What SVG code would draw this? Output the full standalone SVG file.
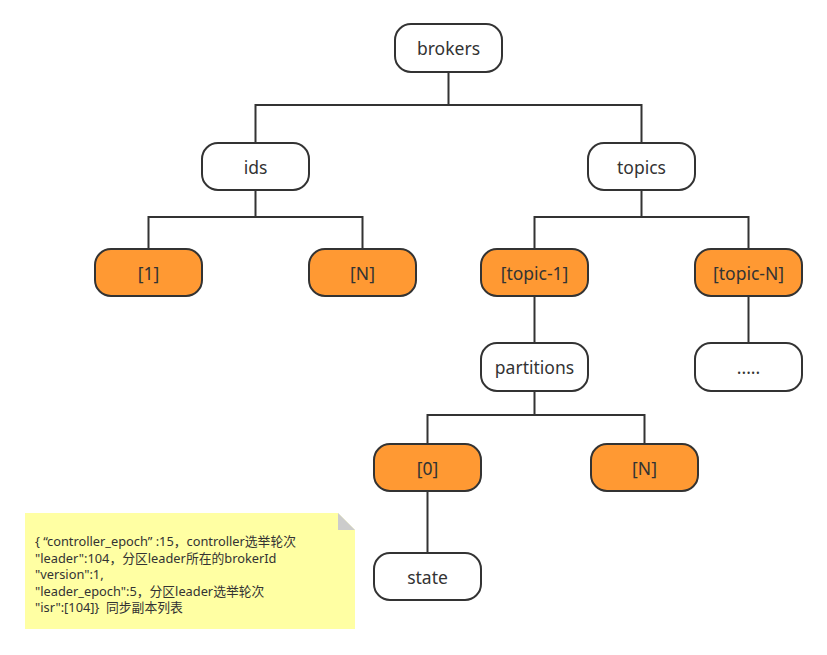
<svg xmlns="http://www.w3.org/2000/svg" width="827" height="655" viewBox="0 0 827 655">
<style>
.n rect{stroke:#333;stroke-width:2}
.w rect{fill:#fff}
.o rect{fill:#FF9933}
.n text{font-family:"Noto Sans","Open Sans","Liberation Sans",sans-serif;font-size:17.5px;fill:#333;text-anchor:middle;dominant-baseline:central}
.c path{fill:none;stroke:#333;stroke-width:2}
.note text{font-family:"Noto Sans","Liberation Sans","Noto Sans CJK SC",sans-serif;font-size:12.8px;fill:#333}
</style>
<rect width="827" height="655" fill="#fff"/>
<g class="c">
<path d="M448.5 72V105M255.5 143V105H641.5V143"/>
<path d="M255.5 190V217M148.5 249V217H362.5V249"/>
<path d="M641.5 190V217M534.5 249V217H748.5V249"/>
<path d="M534.5 296V343"/>
<path d="M748.5 296V343"/>
<path d="M534.5 391V415M427.5 444V415H644.5V444"/>
<path d="M427.5 491V553"/>
</g>
<g id="brokers" class="n w"><rect x="395" y="24" width="107" height="48" rx="16"/><text x="448.5" y="48">brokers</text></g>
<g id="ids" class="n w"><rect x="202" y="143" width="107" height="47" rx="16"/><text x="255.5" y="166.5">ids</text></g>
<g id="topics" class="n w"><rect x="588" y="143" width="107" height="47" rx="16"/><text x="641.5" y="166.5">topics</text></g>
<g id="id1" class="n o"><rect x="95" y="249" width="107" height="47" rx="16"/><text x="148.5" y="272.5">[1]</text></g>
<g id="idN" class="n o"><rect x="309" y="249" width="107" height="47" rx="16"/><text x="362.5" y="272.5">[N]</text></g>
<g id="topic1" class="n o"><rect x="481" y="249" width="107" height="47" rx="16"/><text x="534.5" y="272.5">[topic-1]</text></g>
<g id="topicN" class="n o"><rect x="695" y="249" width="107" height="47" rx="16"/><text x="748.5" y="272.5">[topic-N]</text></g>
<g id="partitions" class="n w"><rect x="481" y="343" width="107" height="48" rx="16"/><text x="534.5" y="367">partitions</text></g>
<g id="dots" class="n w"><rect x="695" y="343" width="107" height="48" rx="16"/><text x="748.5" y="367">.....</text></g>
<g id="p0" class="n o"><rect x="374" y="444" width="107" height="47" rx="16"/><text x="427.5" y="467.5">[0]</text></g>
<g id="pN" class="n o"><rect x="591" y="444" width="107" height="47" rx="16"/><text x="644.5" y="467.5">[N]</text></g>
<g id="state" class="n w"><rect x="374" y="553" width="107" height="47" rx="16"/><text x="427.5" y="576.5">state</text></g>
<g id="note" class="note">
<path d="M25 513H338L355 530V629H25Z" fill="#FFFFA3"/>
<path d="M338 513L355 530H338Z" fill="#CCCCCC"/>
<text x="35" y="546" xml:space="preserve">{ “controller_epoch” :15，controller选举轮次</text>
<text x="35" y="562.5">"leader":104，分区leader所在的brokerId</text>
<text x="35" y="579">"version":1,</text>
<text x="35" y="595.5">"leader_epoch":5，分区leader选举轮次</text>
<text x="35" y="612" xml:space="preserve">"isr":[104]}  同步副本列表</text>
</g>
</svg>
